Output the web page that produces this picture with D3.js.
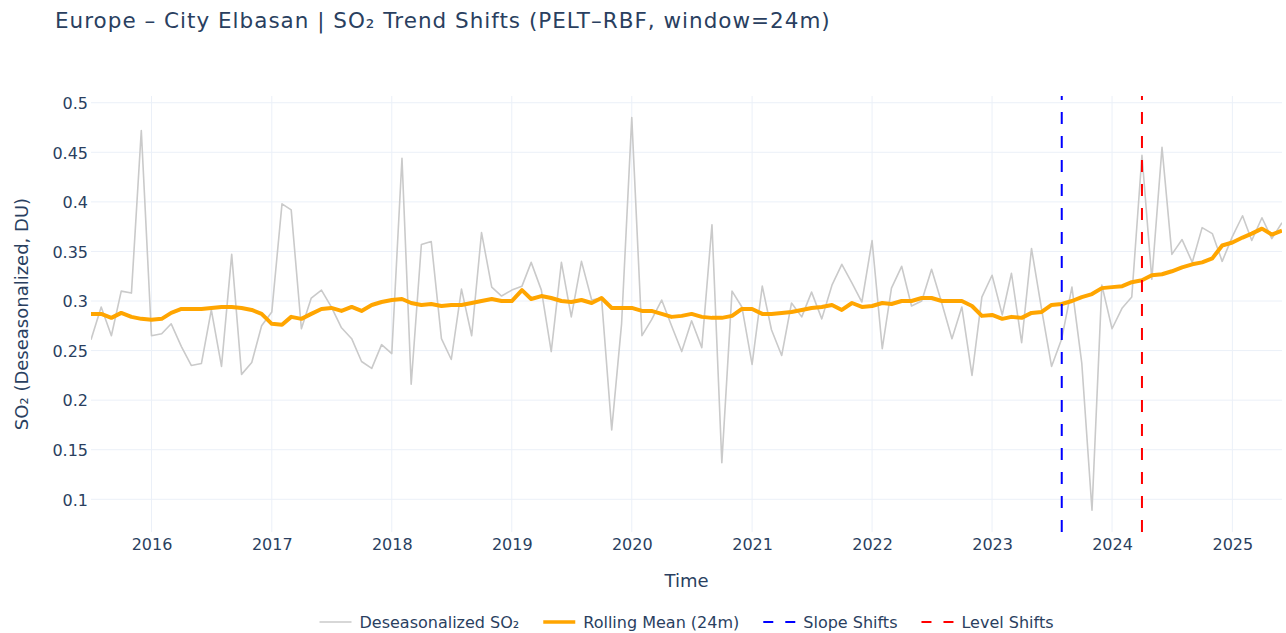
<!DOCTYPE html>
<html>
<head>
<meta charset="utf-8">
<script src="https://cdn.jsdelivr.net/npm/d3@7"></script>
<style>
  html, body { margin: 0; padding: 0; background: #fff; }
  svg { display: block; font-family: "DejaVu Sans", Verdana, sans-serif; }
</style>
</head>
<body>
<svg id="chart" width="1286" height="633"></svg>
<script>
// Monthly series, first value is July 2015
const startMonth = "2015-07-01";

// Deseasonalized SO2 (DU)
const deseasonalized = [
  0.261, 0.294, 0.265, 0.310, 0.308, 0.472, 0.265, 0.267, 0.277, 0.254, 0.235, 0.237,
  0.291, 0.234, 0.347, 0.226, 0.238, 0.275, 0.289, 0.398, 0.392, 0.272, 0.303, 0.311,
  0.294, 0.273, 0.262, 0.239, 0.232, 0.256, 0.247, 0.444, 0.216, 0.357, 0.360, 0.262,
  0.241, 0.312, 0.265, 0.369, 0.314, 0.305, 0.311, 0.315, 0.339, 0.311, 0.249, 0.339,
  0.284, 0.340, 0.301, 0.303, 0.170, 0.277, 0.485, 0.265, 0.281, 0.301, 0.275, 0.249,
  0.280, 0.253, 0.377, 0.137, 0.310, 0.294, 0.236, 0.315, 0.271, 0.245, 0.298, 0.284,
  0.309, 0.282, 0.316, 0.337, 0.318, 0.299, 0.361, 0.252, 0.313, 0.335, 0.295, 0.300,
  0.332, 0.298, 0.262, 0.294, 0.225, 0.304, 0.326, 0.286, 0.328, 0.258, 0.353, 0.291,
  0.234, 0.262, 0.314, 0.237, 0.089, 0.316, 0.272, 0.293, 0.304, 0.447, 0.322, 0.455,
  0.347, 0.362, 0.339, 0.374, 0.368, 0.340, 0.365, 0.386, 0.361, 0.384, 0.363, 0.379
];

// 24-month rolling mean
const rollingMean = [
  0.287, 0.287, 0.283, 0.288, 0.284, 0.282, 0.281, 0.282, 0.288, 0.292, 0.292, 0.292,
  0.293, 0.294, 0.294, 0.293, 0.291, 0.287, 0.277, 0.276, 0.284, 0.282, 0.287, 0.292,
  0.293, 0.290, 0.294, 0.290, 0.296, 0.299, 0.301, 0.302, 0.298, 0.296, 0.297, 0.295,
  0.296, 0.296, 0.298, 0.300, 0.302, 0.300, 0.300, 0.311, 0.302, 0.305, 0.303, 0.300,
  0.299, 0.301, 0.298, 0.303, 0.293, 0.293, 0.293, 0.290, 0.290, 0.287, 0.284, 0.285,
  0.287, 0.284, 0.283, 0.283, 0.285, 0.292, 0.292, 0.287, 0.287, 0.288, 0.289, 0.291,
  0.293, 0.294, 0.296, 0.291, 0.298, 0.294, 0.295, 0.298, 0.297, 0.300, 0.300, 0.303,
  0.303, 0.300, 0.300, 0.300, 0.295, 0.285, 0.286, 0.282, 0.284, 0.283, 0.288, 0.289,
  0.296, 0.297, 0.300, 0.304, 0.307, 0.313, 0.314, 0.315, 0.319, 0.321, 0.326, 0.327,
  0.330, 0.334, 0.337, 0.339, 0.343, 0.356, 0.359, 0.364, 0.368, 0.373, 0.367, 0.371
];

// Detected change points
const slopeShifts = ["2023-08-01"];
const levelShifts = ["2024-04-01"];

const yTicks = [0.1, 0.15, 0.2, 0.25, 0.3, 0.35, 0.4, 0.45, 0.5];
const xTickYears = [2016, 2017, 2018, 2019, 2020, 2021, 2022, 2023, 2024, 2025];

const legendItems = [
  { label: "Deseasonalized SO₂", kind: "grey" },
  { label: "Rolling Mean (24m)", kind: "orange" },
  { label: "Slope Shifts", kind: "blue" },
  { label: "Level Shifts", kind: "red" }
];

// ---- layout ----
const W = 1286, H = 633;
const plot = { left: 91, right: 1282, top: 96, bottom: 532 };
const textColor = "#2a3f5f";
const gridColor = "#ebf0f8";
const style = {
  grey: { stroke: "#cacaca", width: 1.6, dash: null },
  orange: { stroke: "#ffa500", width: 4, dash: null },
  blue: { stroke: "#0000ff", width: 2, dash: "12,12" },
  red: { stroke: "#ff0000", width: 2, dash: "12,12" }
};

const parse = d3.utcParse("%Y-%m-%d");
const start = parse(startMonth);
const dates = deseasonalized.map((_, i) => d3.utcMonth.offset(start, i));

const x = d3.scaleUtc()
  .domain([dates[0], dates[dates.length - 1]])
  .range([plot.left, plot.right]);
const y = d3.scaleLinear()
  .domain([0.067, 0.5068])
  .range([plot.bottom, plot.top]);

const svg = d3.select("#chart");
svg.append("rect").attr("width", W).attr("height", H).attr("fill", "#fff");

svg.append("defs").append("clipPath").attr("id", "plot-clip")
  .append("rect")
  .attr("x", plot.left).attr("y", plot.top)
  .attr("width", plot.right - plot.left).attr("height", plot.bottom - plot.top);

// grid
const xTicks = xTickYears.map(yr => new Date(Date.UTC(yr, 0, 1)));
const grid = svg.append("g");
grid.selectAll("line.gx").data(xTicks).join("line")
  .attr("x1", d => x(d)).attr("x2", d => x(d))
  .attr("y1", plot.top).attr("y2", plot.bottom)
  .attr("stroke", gridColor).attr("stroke-width", 1);
grid.selectAll("line.gy").data(yTicks).join("line")
  .attr("x1", plot.left).attr("x2", plot.right)
  .attr("y1", d => y(d)).attr("y2", d => y(d))
  .attr("stroke", gridColor).attr("stroke-width", 1);

// x axis labels
const xAxis = d3.axisBottom(x).tickValues(xTicks).tickFormat(d3.utcFormat("%Y")).tickSize(0).tickPadding(0);
const gx = svg.append("g").attr("transform", `translate(0,${plot.bottom})`).call(xAxis);
gx.select(".domain").remove();
gx.selectAll("text")
  .attr("y", 18).attr("dy", null)
  .attr("font-size", 16).attr("fill", textColor)
  .attr("font-family", "DejaVu Sans, Verdana, sans-serif");

// y axis labels
const yAxis = d3.axisLeft(y).tickValues(yTicks).tickFormat(d => String(+d.toFixed(2))).tickSize(0).tickPadding(3);
const gy = svg.append("g").attr("transform", `translate(${plot.left},0)`).call(yAxis);
gy.select(".domain").remove();
gy.selectAll("text")
  .attr("dy", "0.36em")
  .attr("font-size", 16).attr("fill", textColor)
  .attr("font-family", "DejaVu Sans, Verdana, sans-serif");

// axis titles
svg.append("text")
  .attr("x", (plot.left + plot.right) / 2).attr("y", 587)
  .attr("text-anchor", "middle").attr("font-size", 18).attr("fill", textColor)
  .text("Time");
svg.append("text")
  .attr("transform", `translate(28,${(plot.top + plot.bottom) / 2}) rotate(-90)`)
  .attr("text-anchor", "middle").attr("font-size", 18).attr("fill", textColor)
  .text("SO₂ (Deseasonalized, DU)");

// title
svg.append("text")
  .attr("x", 55).attr("y", 28)
  .attr("font-size", 21.5).attr("letter-spacing", 1).attr("fill", textColor)
  .text("Europe – City Elbasan | SO₂ Trend Shifts (PELT–RBF, window=24m)");

// series
const layer = svg.append("g").attr("clip-path", "url(#plot-clip)");
const line = d3.line().x(d => x(d[0])).y(d => y(d[1]));

layer.append("path")
  .datum(dates.map((d, i) => [d, deseasonalized[i]]))
  .attr("d", line).attr("fill", "none")
  .attr("stroke", style.grey.stroke).attr("stroke-width", style.grey.width)
  .attr("stroke-linejoin", "round");

layer.append("path")
  .datum(dates.map((d, i) => [d, rollingMean[i]]))
  .attr("d", line).attr("fill", "none")
  .attr("stroke", style.orange.stroke).attr("stroke-width", style.orange.width)
  .attr("stroke-linejoin", "round");

// change point markers, drawn bottom to top
function shiftLines(list, s) {
  layer.selectAll(null).data(list.map(parse)).join("line")
    .attr("x1", d => x(d)).attr("x2", d => x(d))
    .attr("y1", plot.bottom).attr("y2", plot.top)
    .attr("stroke", s.stroke).attr("stroke-width", s.width)
    .attr("stroke-dasharray", s.dash);
}
shiftLines(slopeShifts, style.blue);
shiftLines(levelShifts, style.red);

// legend
const legend = svg.append("g");
const legendY = 622;
const itemGap = 24;
let cursor = 0;
legendItems.forEach(item => {
  const g = legend.append("g");
  const s = style[item.kind];
  g.append("line")
    .attr("x1", 0).attr("x2", 32).attr("y1", 0).attr("y2", 0)
    .attr("stroke", s.stroke).attr("stroke-width", Math.min(s.width, 3.5))
    .attr("stroke-dasharray", s.dash ? "10,12" : null);
  const t = g.append("text")
    .attr("x", 40).attr("y", 0).attr("dy", "0.36em")
    .attr("font-size", 16).attr("fill", textColor)
    .text(item.label);
  const w = 40 + t.node().getComputedTextLength();
  g.attr("transform", `translate(${cursor},0)`);
  cursor += w + itemGap;
});
const totalW = cursor - itemGap;
legend.attr("transform", `translate(${(plot.left + plot.right) / 2 - totalW / 2},${legendY})`);
</script>
</body>
</html>
